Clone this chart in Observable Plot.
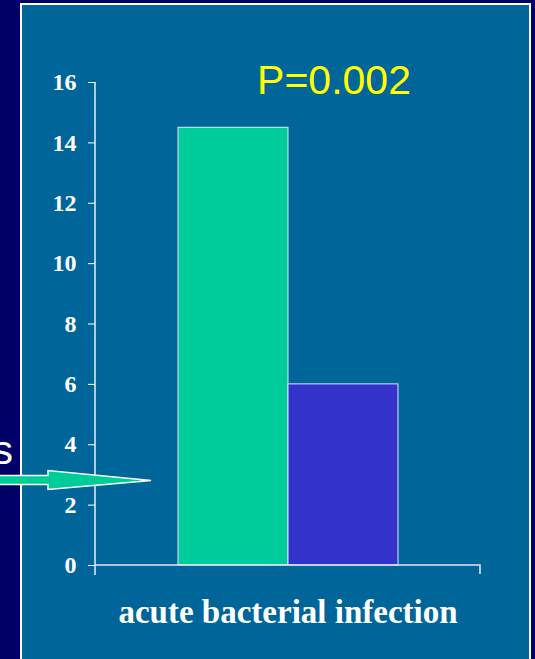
<!DOCTYPE html>
<html><head><meta charset="utf-8">
<script src="https://cdn.jsdelivr.net/npm/d3@7"></script>
<script src="https://cdn.jsdelivr.net/npm/@observablehq/plot@0.6"></script>
<style>
html,body{margin:0;padding:0;background:#000066;overflow:hidden}
#wrap{position:relative;width:535px;height:659px;overflow:hidden;background:#000066}
#panel{position:absolute;left:20px;top:3px;width:507px;height:700px;background:#006699;border:2px solid #ffffff}
#chart{position:absolute;left:0;top:0}
</style></head><body>
<div id="wrap"><div id="panel"></div><div id="chart"></div></div>
<script>
// ---- data ----
const category = "acute bacterial infection";
const groups = ["Group 1", "Group 2"];
const values = [14.5, 6.0];
const groupColors = ["#00CC99", "#3333CC"];
const yTicks = [0, 2, 4, 6, 8, 10, 12, 14, 16];
const pLabel = "P=0.002";
const arrowValue = 2.8;
const leftText = "s";

const data = groups.map((g, i) => ({category, group: g, value: values[i]}));
const serif = "'Liberation Serif', 'Times New Roman', serif";
const sans = "'Liberation Sans', Arial, sans-serif";

function axisLines(index, scales, vals, dims) {
  const {width, marginLeft, marginRight} = dims;
  const x0 = marginLeft, x1 = width - marginRight;
  const y0 = scales.y(0), yTop = scales.y(16);
  const g = d3.create("svg:g").attr("fill", "none").attr("stroke", "#e4e4ee").attr("stroke-width", 1.6);
  g.append("path").attr("d", `M${x0},${yTop}V${y0 + 10}`);
  g.append("path").attr("d", `M${x0},${y0}H${x1}V${y0 + 9}`);
  return g.node();
}

function arrowMark(index, scales, vals, dims) {
  const tx = dims.marginLeft + 56, ty = scales.y(arrowValue);
  const hb = tx - 103;
  const g = d3.create("svg:g");
  g.append("path")
    .attr("d", `M-10,${ty - 5}H${hb}V${ty - 10}L${tx},${ty}L${hb},${ty + 9}V${ty + 4}H-10Z`)
    .attr("fill", "#00CC99").attr("stroke", "#ffffff").attr("stroke-width", 1.5);
  g.append("text").text(leftText)
    .attr("x", 13).attr("y", ty - 16).attr("text-anchor", "end")
    .attr("fill", "#ffffff").attr("font-family", sans).attr("font-size", 41);
  return g.node();
}

const plot = Plot.plot({
  width: 535, height: 659,
  marginLeft: 95, marginRight: 55, marginTop: 82, marginBottom: 94,
  style: {background: "transparent", overflow: "visible"},
  x: {domain: groups, paddingInner: 0, paddingOuter: 0.742, axis: null},
  y: {domain: [0, 16], axis: null},
  color: {domain: groups, range: groupColors},
  marks: [
    Plot.barY(data, {x: "group", y: "value", fill: "group", stroke: "#dde8f8", strokeWidth: 1}),
    axisLines,
    Plot.axisY({ticks: yTicks, label: null, tickSize: 7, tickPadding: 12, fontSize: 24, fontWeight: "bold",
      fontFamily: serif, color: "#ffffff"}),
    Plot.text([category], {frameAnchor: "bottom", lineAnchor: "top", dy: 34, fontSize: 33,
      fontWeight: "bold", fontFamily: serif, fill: "#ffffff"}),
    Plot.text([pLabel], {frameAnchor: "top", lineAnchor: "bottom", dx: 46, dy: 11, fontSize: 41,
      fontFamily: sans, fill: "#FFFF00"}),
    arrowMark
  ]
});
document.getElementById("chart").appendChild(plot);
</script>
</body></html>
